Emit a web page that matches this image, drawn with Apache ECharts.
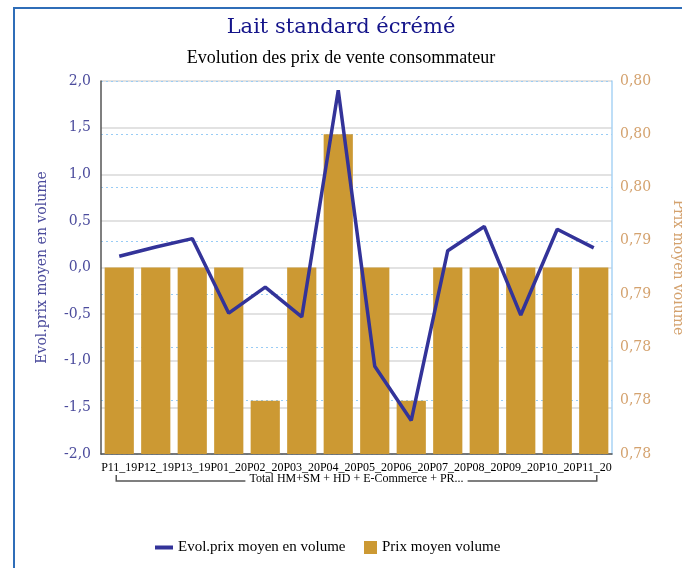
<!DOCTYPE html>
<html>
<head>
<meta charset="utf-8">
<script src="https://cdn.jsdelivr.net/npm/echarts@6/dist/echarts.min.js"></script>
<style>
  html, body { margin: 0; padding: 0; background: #ffffff; }
  #chart { width: 682px; height: 568px; }
</style>
</head>
<body>
<div id="chart"></div>
<script>
// Periods shown on the category axis
var periods = ['P11_19', 'P12_19', 'P13_19', 'P01_20', 'P02_20', 'P03_20', 'P04_20',
               'P05_20', 'P06_20', 'P07_20', 'P08_20', 'P09_20', 'P10_20', 'P11_20'];
// Evolution of the average price per volume (left axis)
var evolPrix = [0.12, 0.22, 0.31, -0.49, -0.21, -0.53, 1.90,
                -1.06, -1.64, 0.18, 0.44, -0.51, 0.41, 0.21];
// Average price per volume (right axis)
var prixMoyen = [0.790, 0.790, 0.790, 0.790, 0.780, 0.790, 0.800,
                 0.790, 0.780, 0.790, 0.790, 0.790, 0.790, 0.790];
var groupLabel = 'Total HM+SM + HD + E-Commerce + PR...';
var lineName = 'Evol.prix moyen en volume';
var barName = 'Prix moyen volume';

var chart = echarts.init(document.getElementById('chart'));
var serif = 'DejaVu Serif';
var narrowSerif = 'Liberation Serif';
var comma = function (v, d) { return v.toFixed(d).replace('.', ','); };

chart.setOption({
  animation: false,
  backgroundColor: '#ffffff',
  title: [
    { text: 'Lait standard écrémé', left: 'center', top: 12,
      textStyle: { fontFamily: serif, fontSize: 21, fontWeight: 'normal', color: '#14148a' } },
    { text: 'Evolution des prix de vente consommateur', left: 'center', top: 44,
      textStyle: { fontFamily: narrowSerif, fontSize: 18, fontWeight: 'normal', color: '#000000' } }
  ],
  legend: [
    { data: [lineName], left: 150, top: 535, icon: 'rect', itemWidth: 18, itemHeight: 4,
      textStyle: { fontFamily: narrowSerif, fontSize: 15, color: '#000000' } },
    { data: [barName], left: 359, top: 535, icon: 'rect', itemWidth: 13, itemHeight: 13,
      textStyle: { fontFamily: narrowSerif, fontSize: 15, color: '#000000' } }
  ],
  grid: { left: 101, right: 70, top: 81, bottom: 114, containLabel: false, outerBoundsMode: 'none' },
  xAxis: {
    type: 'category',
    data: periods,
    boundaryGap: true,
    axisLine: { onZero: false, lineStyle: { color: '#555555', width: 1.5 } },
    axisTick: { show: false },
    axisLabel: { interval: 0, margin: 8, fontFamily: narrowSerif, fontSize: 12, color: '#000000' }
  },
  yAxis: [
    {
      type: 'value', min: -2, max: 2, interval: 0.5, position: 'left',
      name: lineName, nameLocation: 'middle', nameGap: 52, nameRotate: 90,
      nameTextStyle: { fontFamily: serif, fontSize: 14, color: '#4b4b9c' },
      axisLine: { show: true, lineStyle: { color: '#555555', width: 1.5 } },
      axisTick: { show: false },
      axisLabel: { margin: 10, fontFamily: serif, fontSize: 14, color: '#4b4b9c',
                   formatter: function (v) { return comma(v, 1); } },
      splitLine: { show: true, lineStyle: { color: '#d9d9d9', width: 1.5 } }
    },
    {
      type: 'value', min: 0.776, max: 0.804, interval: 0.004, position: 'right',
      name: barName, nameLocation: 'middle', nameGap: 59, nameRotate: -90,
      nameTextStyle: { fontFamily: serif, fontSize: 14, color: '#d4a26e' },
      axisLine: { show: true, lineStyle: { color: '#a9d3f5', width: 1.5 } },
      axisTick: { show: false },
      axisLabel: { margin: 8, fontFamily: serif, fontSize: 14, color: '#d4a26e',
                   formatter: function (v) { return comma(v, 2); } },
      splitLine: { show: true, lineStyle: { color: '#99ccf5', width: 1, type: [2, 3] } }
    }
  ],
  series: [
    {
      name: barName, type: 'bar', yAxisIndex: 1, data: prixMoyen,
      barCategoryGap: '20%', itemStyle: { color: '#cc9933' }, clip: true, z: 2
    },
    {
      name: lineName, type: 'line', yAxisIndex: 0, data: evolPrix,
      symbol: 'none', lineStyle: { color: '#333399', width: 3.5 },
      itemStyle: { color: '#333399' }, z: 3
    }
  ]
});

// Frame and the bracket grouping every period under one label
var xFirst = chart.convertToPixel({ xAxisIndex: 0 }, periods[0]) - 3;
var xLast = chart.convertToPixel({ xAxisIndex: 0 }, periods[periods.length - 1]) + 3;
var yBase = chart.convertToPixel({ yAxisIndex: 0 }, -2);
var yBracket = yBase + 27;
chart.setOption({
  graphic: [
    { type: 'polyline', silent: true,
      shape: { points: [[14, 568], [14, 8], [682, 8]] },
      style: { stroke: '#2f6db8', lineWidth: 2, fill: null } },
    { type: 'polyline', silent: true, z: 10,
      shape: { points: [[xFirst, yBracket - 6], [xFirst, yBracket], [xLast, yBracket], [xLast, yBracket - 6]] },
      style: { stroke: '#555555', lineWidth: 1.5, fill: null } },
    { type: 'text', silent: true, z: 11,
      x: (xFirst + xLast) / 2, y: yBracket - 2,
      style: { text: groupLabel, align: 'center', verticalAlign: 'middle',
               fontFamily: narrowSerif, fontSize: 12, fill: '#000000',
               backgroundColor: '#ffffff', padding: [0, 4] } }
  ]
});
</script>
</body>
</html>
